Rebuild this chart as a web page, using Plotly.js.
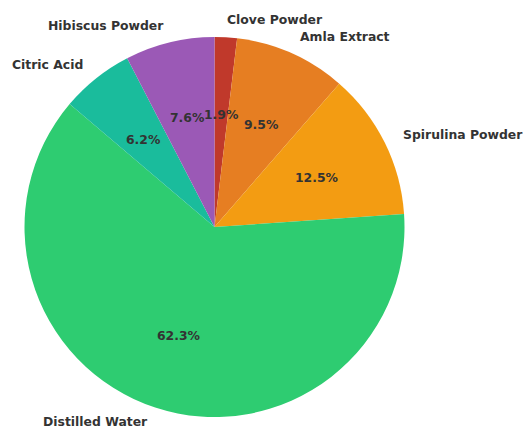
<!DOCTYPE html>
<html>
<head>
<meta charset="utf-8">
<script src="https://cdn.plot.ly/plotly-3.0.1.min.js"></script>
<style>html,body{margin:0;padding:0;background:#fff}#chart{width:524px;height:429px}</style>
</head>
<body>
<div id="chart"></div>
<script>
const labels = ["Clove Powder", "Amla Extract", "Spirulina Powder", "Distilled Water", "Citric Acid", "Hibiscus Powder"];
const values = [1.9, 9.5, 12.5, 62.3, 6.2, 7.6];
const colors = ["#c0392b", "#e67e22", "#f39c12", "#2ecc71", "#1abc9c", "#9b59b6"];

const W = 524, H = 429, CX = 214.5, CY = 227, R = 190, RX = 191, RY = 189;
const total = values.reduce((a, b) => a + b, 0);
const mids = [];
let cum = 0;
values.forEach(v => { mids.push((cum + v / 2) / total * 2 * Math.PI); cum += v; });
const pcts = values.map(v => (v / total * 100).toFixed(1) + '%');
const labelX = mids.map(a => 1.1 * Math.sin(a));
const labelY = mids.map(a => 1.1 * Math.cos(a));
const pctX = mids.map(a => 0.6 * Math.sin(a));
const pctY = mids.map(a => 0.6 * Math.cos(a));

const domX = [(CX - R) / W, (CX + R) / W];
const domY = [(H - CY - R) / H, (H - CY + R) / H];
const font = {family: 'DejaVu Sans', size: 12.4, color: '#333333', weight: 'bold'};

const data = [
  {
    type: 'pie', labels: labels, values: values, sort: false, direction: 'clockwise', rotation: 0,
    marker: {colors: colors, line: {width: 0}}, textinfo: 'none', hoverinfo: 'label+percent',
    domain: {x: domX, y: domY}, showlegend: false
  },
  {
    type: 'scatter', x: labelX, y: labelY, mode: 'markers', marker: {opacity: 0},
    showlegend: false, hoverinfo: 'skip', cliponaxis: false
  }
];

const annotations = labels.map((t, i) => ({
  x: labelX[i], y: labelY[i], xref: 'x', yref: 'y', text: t, showarrow: false, borderpad: 0,
  xanchor: labelX[i] >= 0 ? 'left' : 'right', yanchor: 'middle',
  xshift: labelX[i] >= 0 ? -1 : 0, yshift: labelY[i] < -1 ? 3 : 0, font: font
})).concat(pcts.map((t, i) => ({
  x: pctX[i], y: pctY[i], xref: 'x', yref: 'y', text: t, showarrow: false, borderpad: 0,
  xanchor: 'center', yanchor: 'middle', yshift: -1, font: font
})));

const layout = {
  width: W, height: H, margin: {l: 0, r: 0, t: 0, b: 0},
  paper_bgcolor: '#ffffff', plot_bgcolor: 'rgba(0,0,0,0)', showlegend: false,
  xaxis: {range: [-CX / RX, (W - CX) / RX], visible: false, fixedrange: true},
  yaxis: {range: [-(H - CY) / RY, CY / RY], visible: false, fixedrange: true},
  annotations: annotations
};

Plotly.newPlot('chart', data, layout, {displayModeBar: false, staticPlot: true});
</script>
</body>
</html>
